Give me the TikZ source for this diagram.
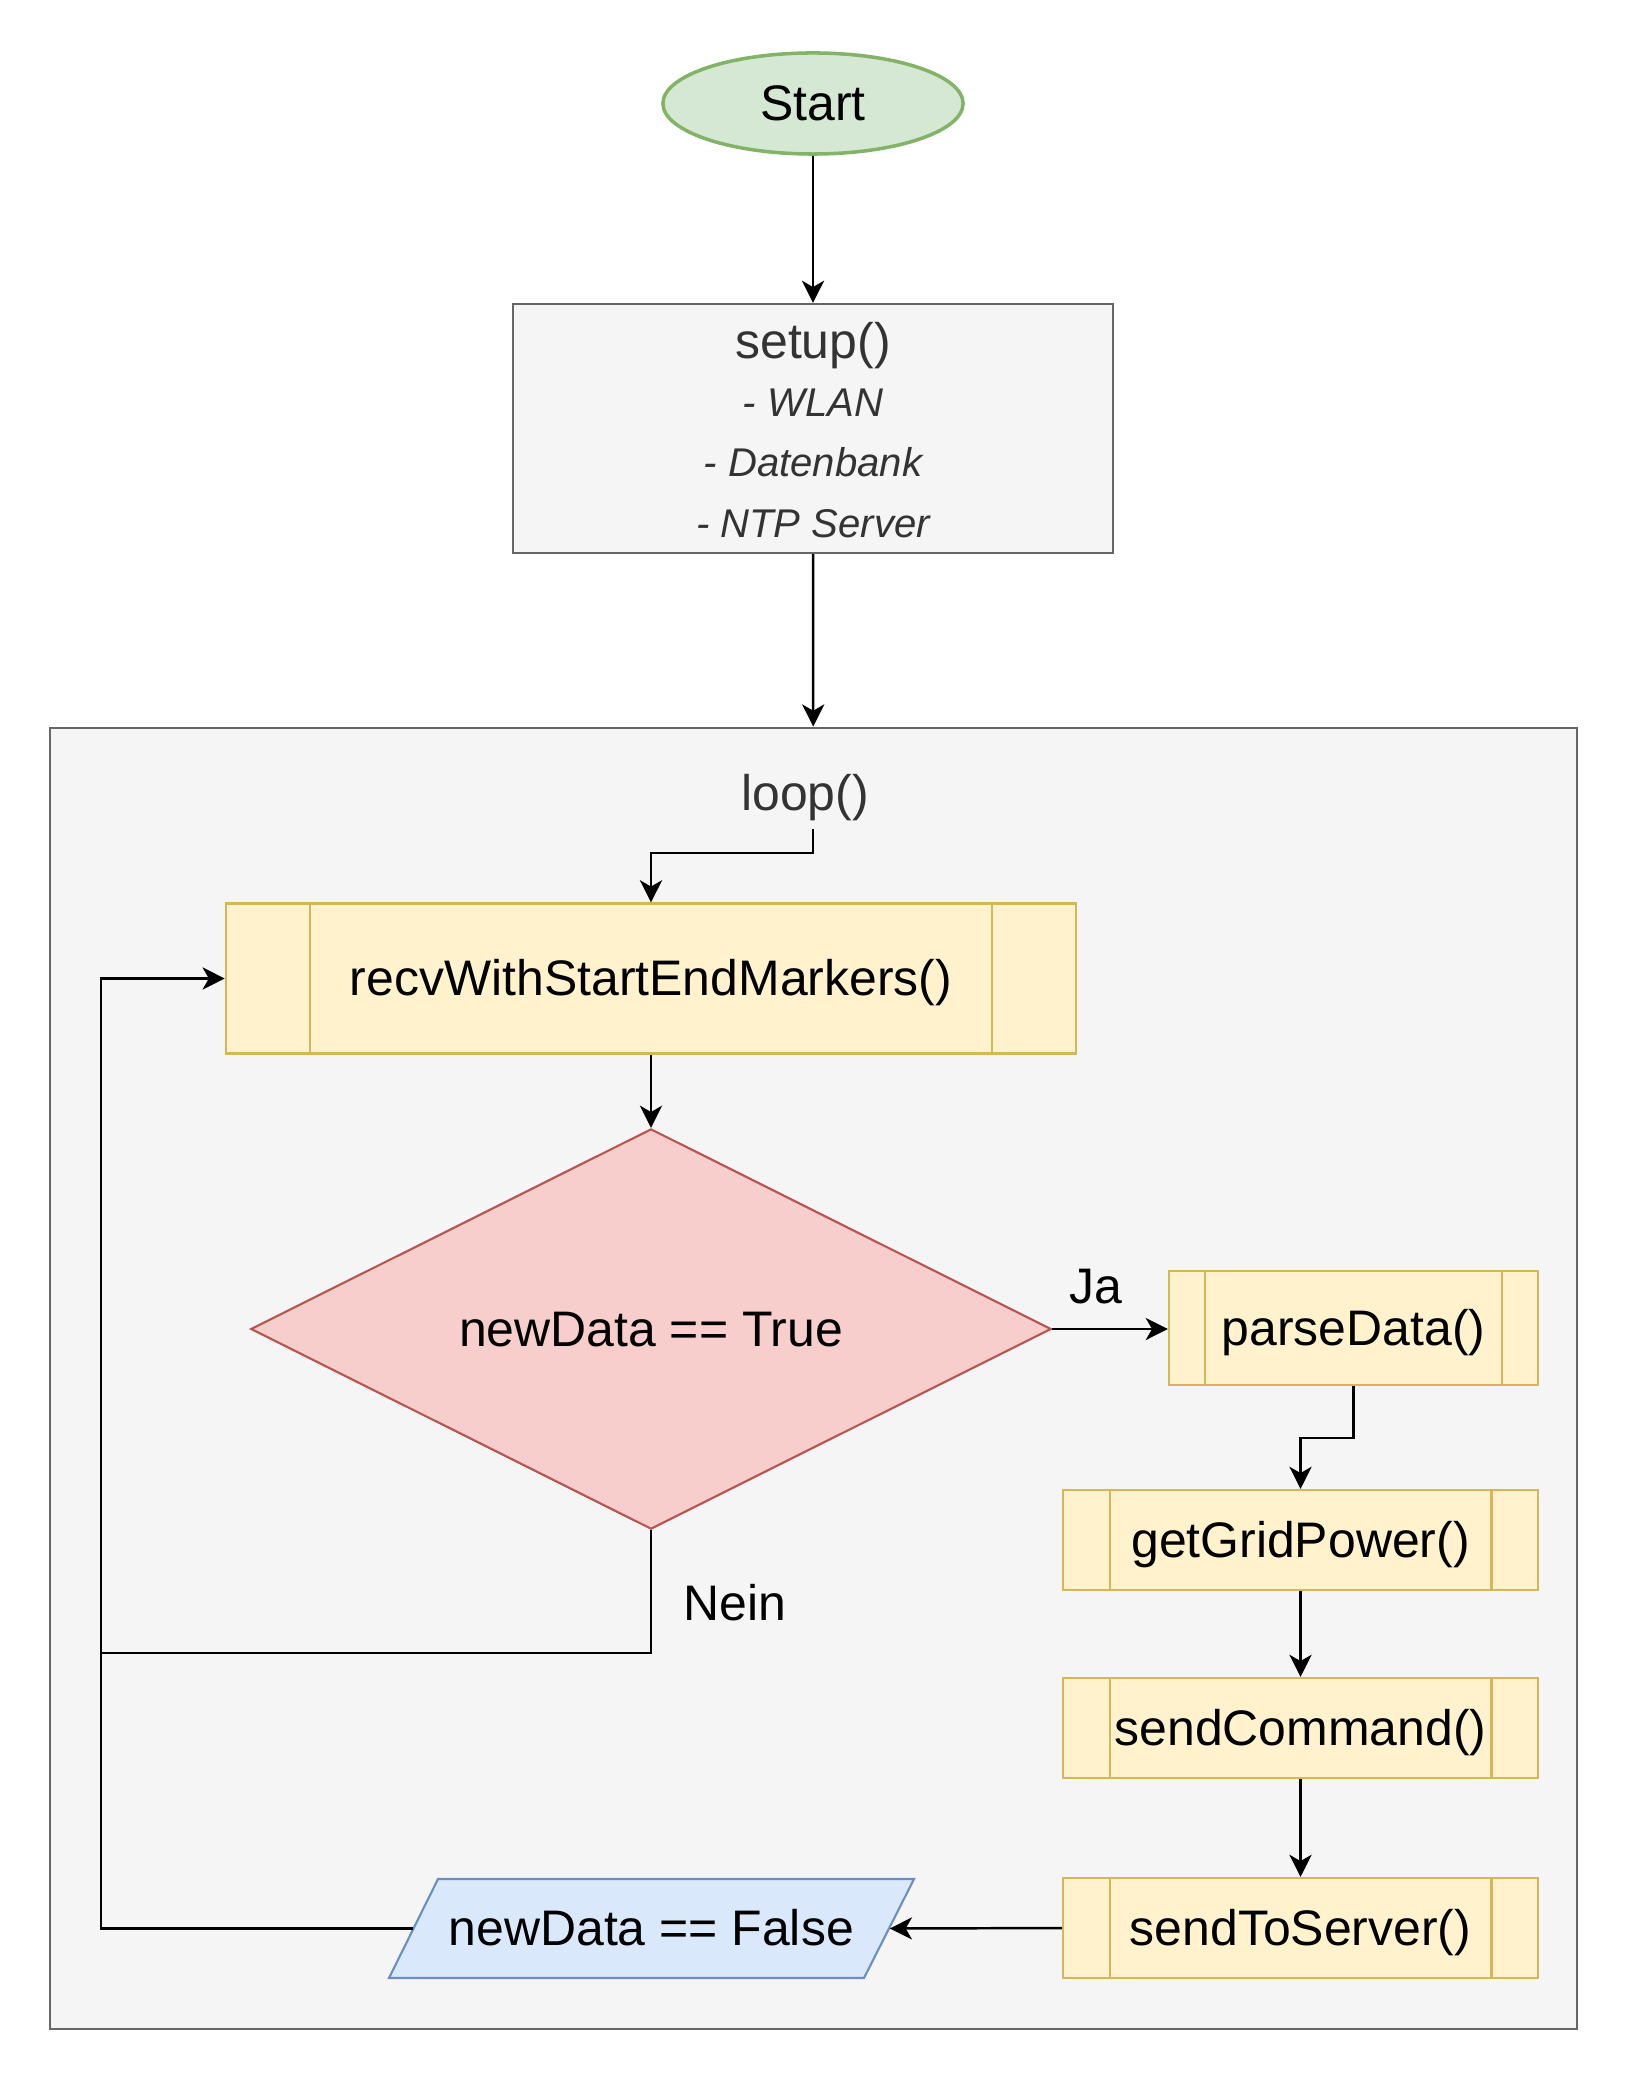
\documentclass[tikz,border=0pt]{standalone}
\usepackage{fontspec}
\setmainfont{Liberation Sans}
\usetikzlibrary{shapes.geometric,arrows.meta,calc}

\definecolor{startfill}{HTML}{D5E8D4}
\definecolor{startline}{HTML}{82B366}
\definecolor{greyfill}{HTML}{F5F5F5}
\definecolor{greyline}{HTML}{666666}
\definecolor{greytext}{HTML}{333333}
\definecolor{procfill}{HTML}{FFF2CC}
\definecolor{procline}{HTML}{D6B656}
\definecolor{decfill}{HTML}{F8CECC}
\definecolor{decline}{HTML}{B85450}
\definecolor{iofill}{HTML}{DAE8FC}
\definecolor{ioline}{HTML}{6C8EBF}

\begin{document}
\begin{tikzpicture}[x=0.01cm,y=-0.01cm,
  font=\fontsize{14.2pt}{17pt}\selectfont,
  % full line box (ascent + descent) so text is centred like a text line
  every node/.append style={text height=12.85pt,text depth=3.01pt},
  conn/.style={draw=black,line width=0.7pt},
  arr/.style={conn,-{Stealth[length=6.3pt,width=6.3pt,inset=1.8pt]}},
  greybox/.style={rectangle,draw=greyline,fill=greyfill,line width=0.6pt,inner sep=0pt},
  proc/.style={rectangle,draw=procline,fill=procfill,line width=0.6pt,inner sep=0pt},
  lbl/.style={inner sep=0pt},
  small/.style={inner sep=0pt,text=greytext,text height=10.32pt,text depth=2.42pt,
                font=\fontsize{11.4pt}{13pt}\selectfont\itshape}
]
% page
\useasboundingbox (0,0) rectangle (1628,2080);
\fill[white] (0,0) rectangle (1628,2080);

% start and setup
\node[ellipse,draw=startline,fill=startfill,line width=1pt,
      minimum width=3cm,minimum height=1.01cm,inner sep=0pt] (start) at (813,103.5) {Start};
\node[greybox,minimum width=6cm,minimum height=2.49cm] (setup) at (813,428.5) {};
\node[lbl,text=greytext] (setupname) at (813,341) {setup()};
\node[small] (wlan) at (813,403) {- WLAN};
\node[small] (db) at (813,463) {- Datenbank};
\node[small] (ntp) at (813,524) {- NTP Server};

% loop container
\node[greybox,minimum width=15.26cm,minimum height=13.01cm] (loop) at (813.2,1378.5) {};
\node[lbl,text=greytext] (loopname) at (805,793.5) {loop()};
\coordinate (loopout) at (813,829);
\coordinate (loopbend) at (813,853);

% process blocks
\node[proc,minimum width=8.5cm,minimum height=1.5cm] (recv) at (651,978.5) {recvWithStartEndMarkers()};
\node[proc,minimum width=3.69cm,minimum height=1.14cm] (parse) at (1353.5,1328) {parseData()};
\node[proc,minimum width=4.75cm,minimum height=1cm] (grid) at (1300.5,1540) {getGridPower()};
\node[proc,minimum width=4.75cm,minimum height=1cm] (cmd) at (1300.5,1728) {sendCommand()};
\node[proc,minimum width=4.75cm,minimum height=1cm] (srv) at (1300.5,1928) {sendToServer()};
% inner side bars of the process blocks (10% of the width)
\foreach \n in {recv,parse,grid,cmd,srv}{
  \draw[procline,line width=0.6pt]
    ($(\n.north west)!0.1!(\n.north east)$) -- ($(\n.south west)!0.1!(\n.south east)$)
    ($(\n.north east)!0.1!(\n.north west)$) -- ($(\n.south east)!0.1!(\n.south west)$);
}

% decision
\node[diamond,draw=decline,fill=decfill,line width=0.6pt,inner sep=0pt,aspect=2,
      minimum width=8cm,minimum height=4cm] (dec) at (651,1329) {newData == True};

% data block: slanted outline, text node spans the mid-points of the slanted sides
\filldraw[draw=ioline,fill=iofill,line width=0.6pt]
  (389,1978) -- (438,1879) -- (914,1879) -- (864,1978) -- cycle;
\node[lbl,minimum width=4.755cm,minimum height=0.99cm] (io) at (651.25,1928.5) {newData == False};

% connectors
\draw[arr] (start) -- (setup);
\draw[arr] (setup) -- (loop.north);
\draw[arr] (loopout) -- (loopbend) -| (recv.north);
\draw[arr] (recv) -- (dec);
\draw[arr] (dec.east) -- (parse.west |- dec.east);
\draw[arr] (parse.south) -- ++(0,52) -| (grid.north);
\draw[arr] (grid) -- (cmd);
\draw[arr] (cmd) -- (srv);
\draw[arr] (srv.west) -- (io.east);
\coordinate (backx) at (101,1653);
\draw[conn] (dec.south) |- (backx);
\draw[arr] (io.west) -- (io.west -| backx) |- (recv.west);

% branch labels
\node[lbl] (ja) at (1096,1286) {Ja};
\node[lbl] (nein) at (735,1603) {Nein};
\end{tikzpicture}
\end{document}
